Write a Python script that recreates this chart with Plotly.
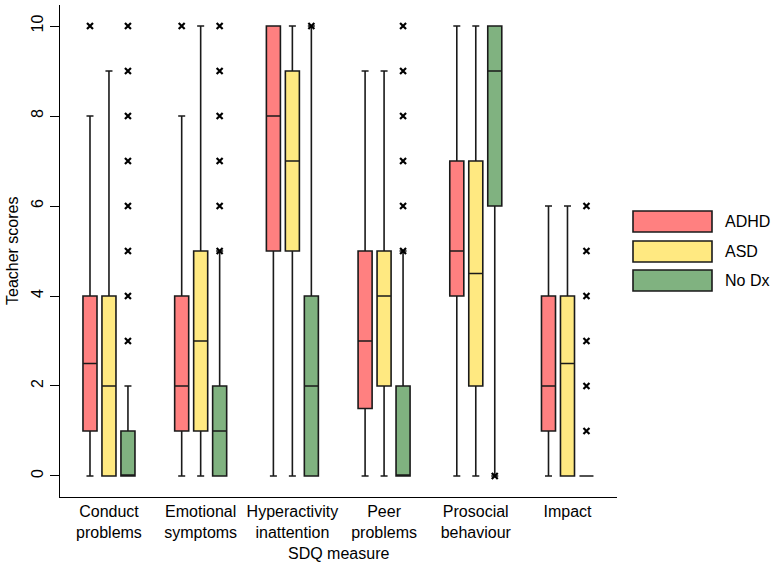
import plotly.graph_objects as go

categories = ["Conduct<br>problems", "Emotional<br>symptoms", "Hyperactivity<br>inattention",
              "Peer<br>problems", "Prosocial<br>behaviour", "Impact"]
groups = ["ADHD", "ASD", "No Dx"]
colors = ["#FF8080", "#FFE981", "#80B280"]

adhd_q1 = [1, 1, 5, 1.5, 4, 1]
adhd_med = [2.5, 2, 8, 3, 5, 2]
adhd_q3 = [4, 4, 10, 5, 7, 4]
adhd_lo = [0, 0, 0, 0, 0, 0]
adhd_hi = [8, 8, 10, 9, 10, 6]
adhd_out = [[10], [10], [], [], [], []]

asd_q1 = [0, 1, 5, 2, 2, 0]
asd_med = [2, 3, 7, 4, 4.5, 2.5]
asd_q3 = [4, 5, 9, 5, 7, 4]
asd_lo = [0, 0, 0, 0, 0, 0]
asd_hi = [9, 10, 10, 9, 10, 6]
asd_out = [[], [], [], [], [], []]

nodx_q1 = [0, 0, 0, 0, 6, 0]
nodx_med = [0, 1, 2, 0, 9, 0]
nodx_q3 = [1, 2, 4, 2, 10, 0]
nodx_lo = [0, 0, 0, 0, 0, 0]
nodx_hi = [2, 5, 10, 5, 10, 0]
nodx_out = [[3, 4, 5, 6, 7, 8, 9, 10], [5, 6, 7, 8, 9, 10], [10],
            [5, 6, 7, 8, 9, 10], [0], [1, 2, 3, 4, 5, 6]]

y_ticks = [0, 2, 4, 6, 8, 10]

stats = [
    (adhd_q1, adhd_med, adhd_q3, adhd_lo, adhd_hi, adhd_out),
    (asd_q1, asd_med, asd_q3, asd_lo, asd_hi, asd_out),
    (nodx_q1, nodx_med, nodx_q3, nodx_lo, nodx_hi, nodx_out),
]

SPACING = 0.207
BOXW = 0.153
FONT = "Liberation Sans, Arial, sans-serif"

fig = go.Figure()
for j, (g, col, st) in enumerate(zip(groups, colors, stats)):
    q1, med, q3, lo, hi, outs = st
    xs = [i + (j - 1) * SPACING for i in range(len(categories))]
    fig.add_trace(go.Box(
        x=xs, q1=q1, median=med, q3=q3, lowerfence=lo, upperfence=hi,
        name=g, fillcolor=col, width=BOXW, whiskerwidth=0.5,
        line=dict(color="#1a1a1a", width=1.6), boxpoints=False,
        showlegend=False, hoverinfo="skip",
    ))
    ox, oy = [], []
    for i, vals in enumerate(outs):
        for v in vals:
            ox.append(xs[i])
            oy.append(v)
    if ox:
        fig.add_trace(go.Scatter(
            x=ox, y=oy, mode="markers", showlegend=False, hoverinfo="skip",
            marker=dict(symbol="x-thin-open", size=6, color="black",
                        line=dict(width=2.2, color="black")),
        ))

plot_l, plot_r, plot_t, plot_b = 60, 617, 5, 497
pw, ph = plot_r - plot_l, plot_b - plot_t
def px(x):
    return (x - plot_l) / pw
def py(y):
    return (plot_b - y) / ph

# manual legend
leg_y = [(211, 232), (241, 262), (270, 291)]
for g, col, (y0, y1) in zip(groups, colors, leg_y):
    fig.add_shape(type="rect", xref="paper", yref="paper",
                  x0=px(633), x1=px(712), y0=py(y1), y1=py(y0),
                  fillcolor=col, line=dict(color="#1a1a1a", width=1.6))
    fig.add_annotation(xref="paper", yref="paper", x=px(723), y=py((y0 + y1) / 2),
                       text=g, showarrow=False, xanchor="left", yanchor="middle",
                       font=dict(size=16, color="black", family=FONT))

# axis titles
fig.add_annotation(xref="paper", yref="paper", x=px(338.5), y=py(553),
                   text="SDQ measure", showarrow=False, xanchor="center", yanchor="middle",
                   font=dict(size=16, color="black", family=FONT))
fig.add_annotation(xref="paper", yref="paper", x=px(12), y=py(251),
                   text="Teacher scores", showarrow=False, textangle=-90,
                   xanchor="center", yanchor="middle",
                   font=dict(size=16, color="black", family=FONT))

fig.update_layout(
    width=776, height=565,
    margin=dict(l=plot_l, r=776 - plot_r, t=plot_t, b=565 - plot_b),
    plot_bgcolor="white", paper_bgcolor="white",
    font=dict(family=FONT, size=16, color="black"),
    showlegend=False,
)
fig.update_xaxes(
    range=[-0.534, 5.54], tickmode="array",
    tickvals=list(range(len(categories))), ticktext=categories,
    showline=True, linecolor="black", linewidth=1.3, ticks="",
    showgrid=False, zeroline=False, mirror=False, automargin=False,
    tickfont=dict(size=16),
)
fig.update_yaxes(
    range=[-0.467, 10.467], tickvals=y_ticks, ticktext=[str(t) for t in y_ticks],
    showline=True, linecolor="black", linewidth=1.3, ticks="outside",
    ticklen=9, tickwidth=1.3, tickcolor="black", tickangle=-90,
    showgrid=False, zeroline=False, automargin=False,
    tickfont=dict(size=16),
)

fig.write_html("out.html", config={"displayModeBar": False},
               post_script="document.body.style.margin='0';document.body.style.padding='0';")
